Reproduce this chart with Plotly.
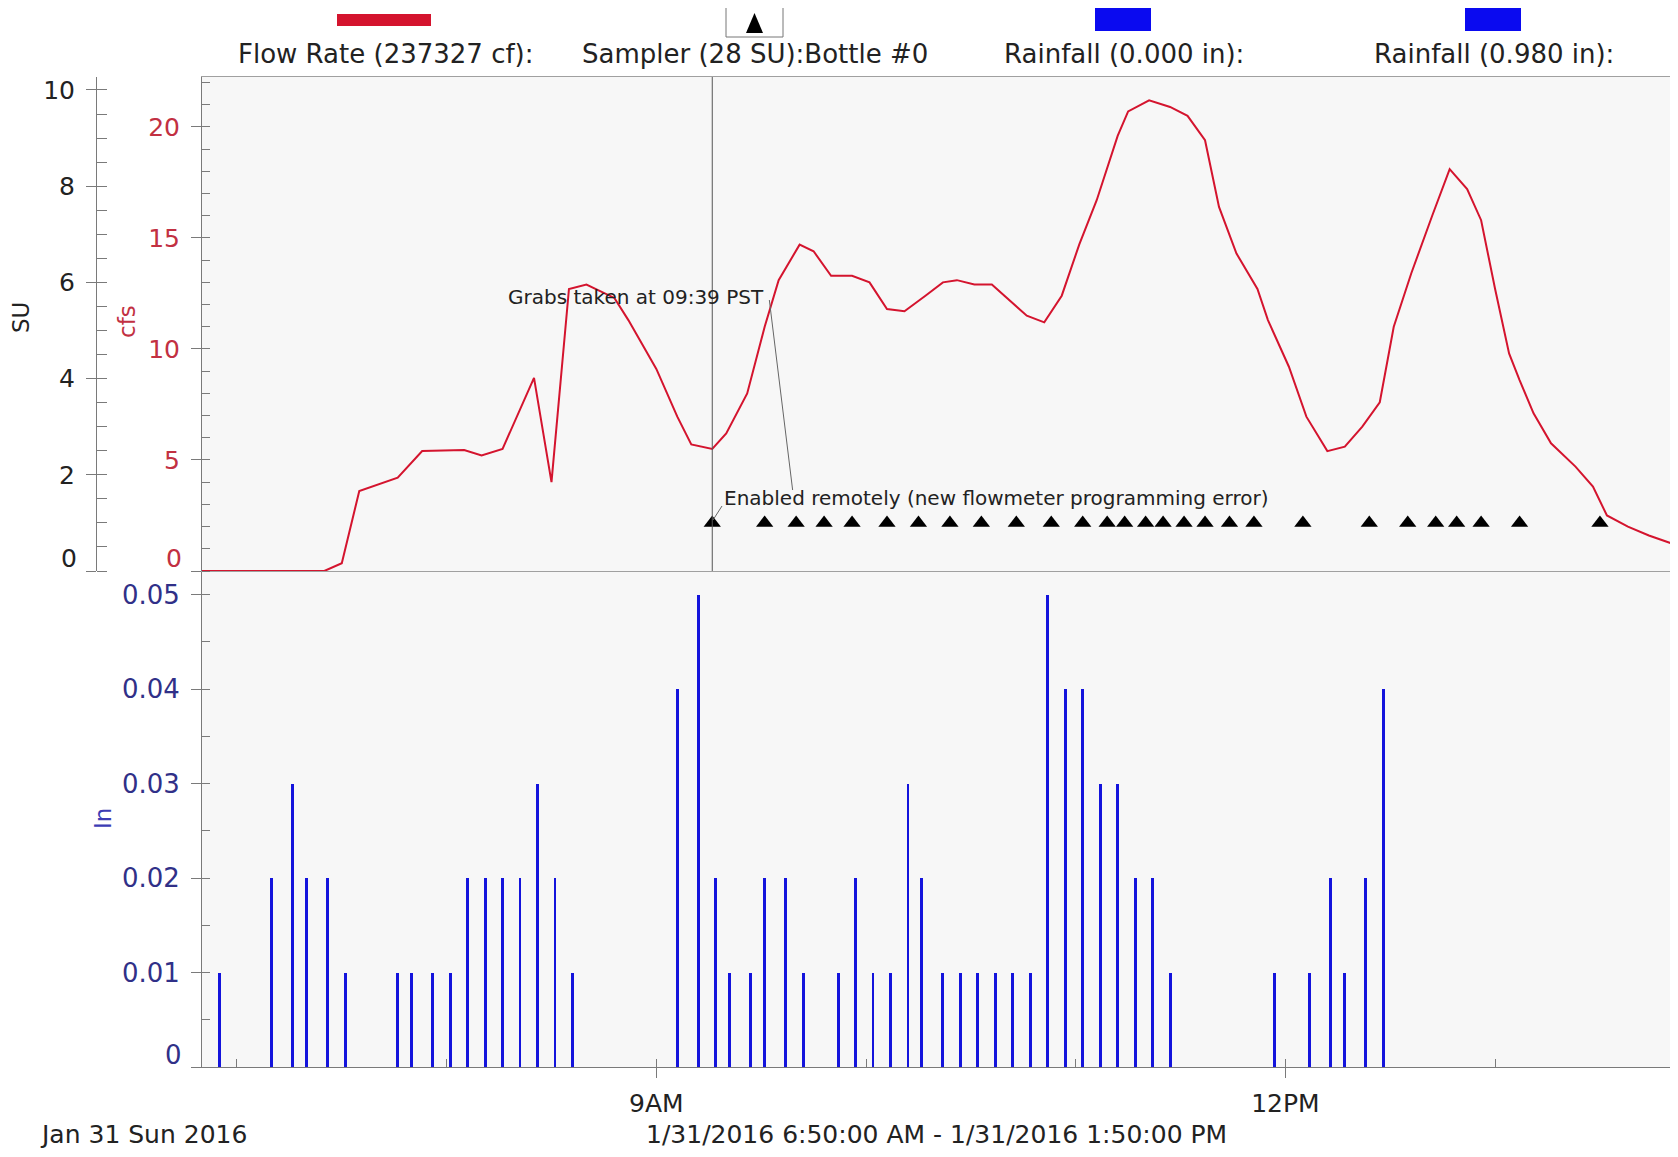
import plotly.graph_objects as go

DAY = "2016-01-31 "
PAGE_W, PAGE_H = 1678, 1157
OFF = 8  # default body margin of the html page
W, H = PAGE_W - OFF, PAGE_H - OFF

# ---------------- data ----------------
flow_time = ["06:50", "07:25", "07:30", "07:35", "07:46", "07:53", "08:05", "08:10", "08:16", "08:25",
             "08:30", "08:35", "08:40", "08:48", "08:52", "09:00", "09:06", "09:10", "09:16", "09:20",
             "09:26", "09:31", "09:35", "09:41", "09:45", "09:50", "09:56", "10:01", "10:06", "10:11",
             "10:17", "10:22", "10:26", "10:31", "10:36", "10:41", "10:46", "10:51", "10:56", "11:01",
             "11:06", "11:12", "11:15", "11:21", "11:27", "11:32", "11:37", "11:41", "11:46", "11:52",
             "11:55", "12:01", "12:06", "12:12", "12:17", "12:22", "12:27", "12:31", "12:36", "12:42",
             "12:47", "12:52", "12:56", "13:00", "13:04", "13:07", "13:11", "13:16", "13:23", "13:28",
             "13:32", "13:38", "13:44", "13:53"]
flow_cfs = [0, 0, 0.35, 3.6, 4.2, 5.4, 5.45, 5.2, 5.5, 8.7,
            4.0, 12.7, 12.9, 12.3, 11.3, 9.1, 6.95, 5.7, 5.5, 6.2,
            8.0, 11.0, 13.1, 14.7, 14.4, 13.3, 13.3, 13.0, 11.8, 11.7,
            12.4, 13.0, 13.1, 12.9, 12.9, 12.2, 11.5, 11.2, 12.4, 14.7,
            16.7, 19.6, 20.7, 21.2, 20.9, 20.5, 19.4, 16.4, 14.3, 12.7,
            11.3, 9.2, 6.95, 5.4, 5.6, 6.5, 7.6, 11.0, 13.4, 16.0,
            18.1, 17.2, 15.8, 12.7, 9.8, 8.6, 7.1, 5.75, 4.7, 3.8,
            2.5, 2.0, 1.6, 1.1]

sampler_time = ["09:16", "09:31", "09:40", "09:48", "09:56", "10:06", "10:15", "10:24", "10:33", "10:43",
                "10:53", "11:02", "11:09", "11:14", "11:20", "11:25", "11:31", "11:37", "11:44", "11:51",
                "12:05", "12:24", "12:35", "12:43", "12:49", "12:56", "13:07", "13:30"]
sampler_su = [1] * len(sampler_time)

rain_time = ["06:55", "07:10", "07:16", "07:20", "07:26", "07:31", "07:46", "07:50", "07:56", "08:01",
             "08:06", "08:11", "08:16", "08:21", "08:26", "08:31", "08:36", "09:06", "09:12", "09:17",
             "09:21", "09:27", "09:31", "09:37", "09:42", "09:52", "09:57", "10:02", "10:07", "10:12",
             "10:16", "10:22", "10:27", "10:32", "10:37", "10:42", "10:47", "10:52", "10:57", "11:02",
             "11:07", "11:12", "11:17", "11:22", "11:27", "11:57", "12:07", "12:13", "12:17", "12:23",
             "12:28"]
rain_in = [0.01, 0.02, 0.03, 0.02, 0.02, 0.01, 0.01, 0.01, 0.01, 0.01,
           0.02, 0.02, 0.02, 0.02, 0.03, 0.02, 0.01, 0.04, 0.05, 0.02,
           0.01, 0.01, 0.02, 0.02, 0.01, 0.01, 0.02, 0.01, 0.01, 0.03,
           0.02, 0.01, 0.01, 0.01, 0.01, 0.01, 0.01, 0.05, 0.04, 0.04,
           0.03, 0.03, 0.02, 0.02, 0.01, 0.01, 0.01, 0.02, 0.01, 0.02,
           0.04]

grab_time = "09:39"

x_ticks = ["09:00", "12:00"]
x_ticktext = ["9AM", "12PM"]
cfs_ticks = [0, 5, 10, 15, 20]
cfs_ticktext = ["", "5", "10", "15", "20"]
su_ticks = [0, 2, 4, 6, 8, 10]
su_ticktext = ["", "2", "4", "6", "8", "10"]
in_ticks = [0, 0.01, 0.02, 0.03, 0.04, 0.05]
in_ticktext = ["", "0.01", "0.02", "0.03", "0.04", "0.05"]
zero_label = "0"

legend_labels = ["Flow Rate (237327 cf):", "Sampler (28 SU):Bottle #0",
                 "Rainfall (0.000 in):", "Rainfall (0.980 in):"]
date_label = "Jan 31 Sun 2016"
range_label = "1/31/2016 6:50:00 AM - 1/31/2016 1:50:00 PM"
grab_label = "Grabs taken at 09:39 PST"
enable_label = "Enabled remotely (new flowmeter programming error)"

# ---------------- styling ----------------
FONT = "DejaVu Sans"
RED = "#d4142e"
CFS_C = "#c23042"
IN_C = "#303088"
BLUE = "#1414dc"
AX = "#7a7a7a"


def px(x):
    return (x - OFF) / W


def py(y):
    return 1 - (y - OFF) / H


def t(s):
    return DAY + s


fig = go.Figure()

fig.add_trace(go.Bar(x=[t(s) for s in rain_time], y=rain_in, xaxis="x", yaxis="y",
                     marker=dict(color=BLUE, line=dict(width=0)), width=50000))
fig.add_trace(go.Scatter(x=[t(s) for s in flow_time], y=flow_cfs, xaxis="x2", yaxis="y2",
                         mode="lines", line=dict(color=RED, width=2)))
fig.add_trace(go.Scatter(x=[t(s) for s in sampler_time], y=sampler_su, xaxis="x2", yaxis="y3",
                         mode="markers", marker=dict(symbol="triangle-up", size=15, color="black")))

xdom = [px(202), 1.0]
top_dom = [py(571), py(77)]
bot_dom = [py(1067), py(571)]
xrange = [t("06:50:00"), t("13:52:20")]

common_y = dict(showgrid=False, zeroline=False, showline=True, linecolor=AX, linewidth=1,
                ticks="outside", ticklen=10, tickcolor=AX, automargin=False, ticklabelstandoff=6)

fig.update_layout(
    width=W, height=H, margin=dict(l=0, r=0, t=0, b=0, pad=0),
    paper_bgcolor="white", plot_bgcolor="#f7f7f7", showlegend=False,
    font=dict(family=FONT, size=25, color="#222"), bargap=0,
    xaxis=dict(domain=xdom, anchor="y", type="date", range=xrange, showgrid=False,
               zeroline=False, showline=True, linecolor=AX, tickvals=[t(s) for s in x_ticks],
               ticktext=x_ticktext, ticks="outside", ticklen=10, tickcolor=AX,
               ticklabelstandoff=4, automargin=False, tickfont=dict(size=25, color="#222"),
               minor=dict(dtick=3600000, tick0=t("07:00"), ticks="inside", ticklen=8,
                          tickcolor=AX, showgrid=False)),
    xaxis2=dict(domain=xdom, anchor="y2", matches="x", type="date", showgrid=False,
                zeroline=False, showline=True, mirror=True, linecolor="#a0a0a0",
                showticklabels=False, ticks=""),
    yaxis=dict(domain=bot_dom, anchor="x", range=[0, 0.0525], tickvals=in_ticks,
               ticktext=in_ticktext, tickfont=dict(size=26, color=IN_C),
               minor=dict(dtick=0.005, ticks="inside", ticklen=8, tickcolor=AX),
               **common_y),
    yaxis2=dict(domain=top_dom, anchor="x2", range=[0, 22.25], tickvals=cfs_ticks,
                ticktext=cfs_ticktext, tickfont=dict(size=25, color=CFS_C),
                minor=dict(dtick=1, ticks="inside", ticklen=8, tickcolor=AX),
                **common_y),
    yaxis3=dict(overlaying="y2", anchor="free", position=px(96), side="left",
                range=[0, 10.27], tickvals=su_ticks, ticktext=su_ticktext,
                tickfont=dict(size=25, color="#222"),
                minor=dict(dtick=0.5, ticks="inside", ticklen=10, tickcolor=AX),
                **common_y),
)

shapes = []
# cursor line at the first bottle
shapes.append(dict(type="line", xref="x2", yref="paper", x0=t(sampler_time[0]), x1=t(sampler_time[0]),
                   y0=py(571), y1=py(77), line=dict(color="#555", width=1)))
# grab annotation leader
shapes.append(dict(type="line", xref="x2", yref="paper", x0=t("09:32:20"), x1=t(grab_time),
                   y0=py(300), y1=py(490), line=dict(color="#666", width=1)))
# enabled annotation leader
shapes.append(dict(type="line", xref="paper", yref="paper", x0=px(713), x1=px(722),
                   y0=py(520), y1=py(506), line=dict(color="#666", width=1)))
# legend swatches
shapes.append(dict(type="rect", xref="paper", yref="paper", x0=px(337), x1=px(431), y0=py(26), y1=py(14),
                   fillcolor=RED, line=dict(width=0)))
shapes.append(dict(type="rect", xref="paper", yref="paper", x0=px(726), x1=px(783), y0=py(37), y1=py(6),
                   fillcolor="white", line=dict(color="#777", width=1)))
shapes.append(dict(type="path", xref="paper", yref="paper",
                   path=f"M {px(746)} {py(33)} L {px(763)} {py(33)} L {px(754.5)} {py(13)} Z",
                   fillcolor="black", line=dict(width=0)))
shapes.append(dict(type="rect", xref="paper", yref="paper", x0=px(1095), x1=px(1151), y0=py(31), y1=py(8),
                   fillcolor="#0a0af0", line=dict(width=0)))
shapes.append(dict(type="rect", xref="paper", yref="paper", x0=px(1465), x1=px(1521), y0=py(31), y1=py(8),
                   fillcolor="#0a0af0", line=dict(width=0)))
fig.update_layout(shapes=shapes)

ann = []


def label(text, x, y, size=25, color="#222", angle=0, xanchor="center"):
    ann.append(dict(text=text, x=px(x), y=py(y), xref="paper", yref="paper", showarrow=False,
                    xanchor=xanchor, yanchor="middle", textangle=angle,
                    font=dict(family=FONT, size=size, color=color)))


label(legend_labels[0], 386, 54, size=26)
label(legend_labels[1], 755, 54, size=26)
label(legend_labels[2], 1124, 54, size=26)
label(legend_labels[3], 1494, 54, size=26)
label("SU", 21, 318, size=23, angle=-90)
label("cfs", 127, 321, size=23, color=CFS_C, angle=-90)
label("In", 103, 819, size=23, color="#3c3cb4", angle=-90)
label(grab_label, 636, 297, size=20)
label(enable_label, 996, 498, size=20)
label(date_label, 38, 1134, size=25, xanchor="left")
label(range_label, 936, 1134, size=25)
# raised zero labels, as in the original
label(zero_label, 79, 558, size=25, xanchor="right")
label(zero_label, 184, 558, size=25, color=CFS_C, xanchor="right")
label(zero_label, 184, 1055, size=26, color=IN_C, xanchor="right")
fig.update_layout(annotations=ann)

fig.write_html("out.html")
